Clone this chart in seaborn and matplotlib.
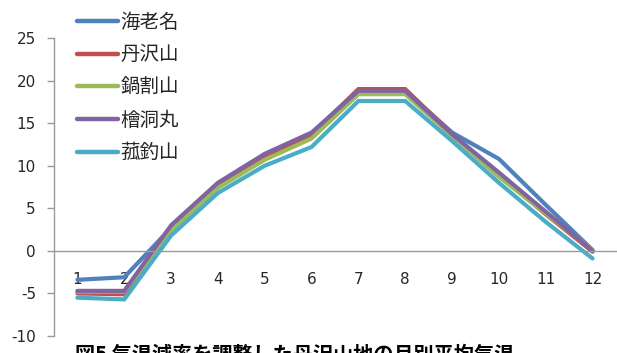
import numpy as np
import pandas as pd
import matplotlib
matplotlib.use("Agg")
import matplotlib.pyplot as plt
import seaborn as sns

# Monthly mean temperature (deg C), lapse-rate adjusted
months = [1, 2, 3, 4, 5, 6, 7, 8, 9, 10, 11, 12]
ebina = [-3.4, -3.1, 2.7, 7.6, 10.9, 13.6, 18.8, 18.8, 13.9, 10.8, 5.4, 0.1]
tanzawa = [-5.0, -5.1, 2.8, 7.8, 11.1, 13.7, 19.0, 19.0, 13.7, 8.9, 4.3, -0.1]
nabewari = [-4.8, -4.8, 2.4, 7.4, 10.7, 13.2, 18.4, 18.4, 13.5, 8.7, 4.4, 0.1]
hinokiboramaru = [-4.7, -4.7, 3.0, 8.0, 11.4, 13.9, 18.8, 18.8, 13.7, 9.2, 4.6, 0.0]
komotsuri = [-5.5, -5.7, 1.8, 6.8, 10.0, 12.2, 17.6, 17.6, 12.9, 8.0, 3.4, -0.9]

stations = ["海老名", "丹沢山", "鍋割山", "檜洞丸", "菰釣山"]
series = [ebina, tanzawa, nabewari, hinokiboramaru, komotsuri]
colors = ["#4F81BD", "#C0504D", "#9BBB59", "#8064A2", "#4BACC6"]

y_ticks = [-10, -5, 0, 5, 10, 15, 20, 25]
title = "図5 気温減率を調整した丹沢山地の月別平均気温"

df = pd.DataFrame({
    "month": np.tile(months, len(stations)),
    "temp": np.concatenate(series),
    "station": np.repeat(stations, len(months)),
})

sns.set_style("white")
plt.rcParams["font.family"] = ["Noto Sans CJK JP", "DejaVu Sans"]

W, H = 617, 353
fig = plt.figure(figsize=(W / 100, H / 100), dpi=100)
ax = fig.add_axes([54 / W, (H - 336) / H, (616 - 54) / W, (336 - 38) / H])

sns.lineplot(data=df, x="month", y="temp", hue="station", hue_order=stations,
             palette=colors, linewidth=3.0, ax=ax, legend=True,
             solid_joinstyle="miter")

ax.set_xlim(0.5, 12.5)
ax.set_ylim(-10, 25)
ax.set_xlabel("")
ax.set_ylabel("")

# Category axis crossing at zero, tick marks between categories
ax.spines["top"].set_visible(False)
ax.spines["right"].set_visible(False)
ax.spines["bottom"].set_position(("data", 0))
for s in ("left", "bottom"):
    ax.spines[s].set_color("#9a9a9a")
    ax.spines[s].set_linewidth(1.0)

ax.set_xticks(months)
ax.set_xticklabels([str(m) for m in months], fontsize=11,
                   family="DejaVu Sans", color="#262626")
ax.set_xticks([m + 0.5 for m in months], minor=True)
ax.tick_params(axis="x", which="major", length=0, pad=15)
ax.tick_params(axis="x", which="minor", length=5, width=1.0,
               color="#9a9a9a", direction="out")

ax.set_yticks(y_ticks)
ax.set_yticklabels([str(v) for v in y_ticks], fontsize=11,
                   family="DejaVu Sans", color="#262626")
ax.tick_params(axis="y", length=5, width=1.0, color="#9a9a9a",
               direction="out", left=True, pad=8)

# Legend in the top-left corner
handles, labels = ax.get_legend_handles_labels()
ax.legend_.remove()
leg = fig.legend(handles, labels, loc="upper left",
                 bbox_to_anchor=(69 / W, 1 - 4 / H), frameon=False,
                 fontsize=14, handlelength=2.1, handletextpad=0.15,
                 labelspacing=0.6, borderaxespad=0)
for line in leg.get_lines():
    line.set_linewidth(3.2)

fig.text(75 / W, (H - 344) / H, title, fontsize=14.5, fontweight="bold",
         va="top", ha="left", color="#000000")

fig.savefig("out.png", dpi=100)
